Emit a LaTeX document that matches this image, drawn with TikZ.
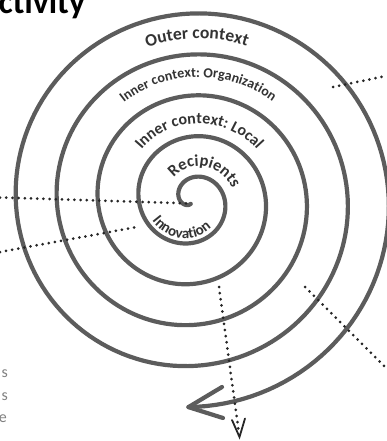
\documentclass[tikz,border=0pt]{standalone}
\usepackage{fontspec}
\setmainfont{Carlito}
\usetikzlibrary{decorations.text, arrows.meta}
\definecolor{spiralcore}{HTML}{5C5C5C}
\definecolor{txt}{HTML}{333333}
\definecolor{dotc}{HTML}{262626}
\definecolor{side}{HTML}{808080}
\newcommand\fOuter{\bfseries\fontsize{17.5}{17.5}\selectfont}
\newcommand\fOrg{\bfseries\fontsize{14}{14}\selectfont}
\newcommand\fLoc{\bfseries\fontsize{16}{16}\selectfont}
\newcommand\fRec{\bfseries\fontsize{16.5}{16.5}\selectfont}
\newcommand\fInn{\bfseries\fontsize{15}{15}\selectfont}
\tikzset{
  spiralline/.style={line width=4.2pt, draw=spiralcore, line cap=round, line join=round},
  dotline/.style={draw=dotc, line width=3pt, line cap=round, dash pattern=on 0pt off 6.2pt},
  tipline/.style={draw=dotc, line width=1.8pt, line cap=round, line join=miter},
  curvetext/.style={decorate, decoration={text along path, text align=center, text color=txt}},
  sidetext/.style={anchor=base east, inner sep=0pt, text=side, font=\fontsize{16}{16}\selectfont},
}
\begin{document}
\begin{tikzpicture}[x=1pt,y=-1pt]
\useasboundingbox (0,0) rectangle (386,441);

% spiral
\draw[spiralline] plot[domain=-252:1531, samples=700]
  ({192+(32.75+0.113889*\x)*cos(\x)}, {200+(32.75+0.113889*\x)*sin(\x)});
\coordinate (tip) at (188.4,407.1);
\coordinate (barbU) at (222,387);
\coordinate (barbL) at (223,418);
\draw[spiralline] (barbU) -- (tip) -- (barbL);

% curved labels
\path[curvetext, decoration={text={|\fOuter|Outer context}}]
  plot[domain=-160:-20, samples=60] ({192+(171.5+0.113889*\x)*cos(\x)}, {200+(171.5+0.113889*\x)*sin(\x)});
\path[curvetext, decoration={text={|\fOrg|Inner context: Organization}}]
  plot[domain=-168:-12, samples=60] ({192+(133+0.113889*\x)*cos(\x)}, {200+(133+0.113889*\x)*sin(\x)});
\path[curvetext, decoration={text={|\fLoc|Inner context: Local}}]
  plot[domain=-175:-5, samples=60] ({192+(86.5+0.113889*\x)*cos(\x)}, {200+(86.5+0.113889*\x)*sin(\x)});
\path[curvetext, decoration={text={|\fRec|Recipients}}]
  plot[domain=-170:10, samples=60] ({192+(43.5+0.113889*\x)*cos(\x)}, {200+(43.5+0.113889*\x)*sin(\x)});
\path[curvetext, decoration={text={|\fInn|Innovation}}]
  plot[domain=0:160, samples=60] ({192+(27.5+0.113889*(178-\x))*cos(178-\x)}, {200+(27.5+0.113889*(178-\x))*sin(178-\x)});

% dotted lines
\coordinate (d1s) at (0,197.5);  \coordinate (d1e) at (191,203.5);
\coordinate (d2s) at (0,252);    \coordinate (d2e) at (137,227);
\coordinate (d3s) at (333,87);   \coordinate (d3e) at (386,76);
\coordinate (d4s) at (305,287);  \coordinate (d4e) at (386,368);
\coordinate (d5s) at (219,287);  \coordinate (d5e) at (238.5,430);
\draw[dotline] (d1s) -- (d1e);
\draw[dotline] (d2s) -- (d2e);
\draw[dotline] (d3s) -- (d3e);
\draw[dotline] (d4s) -- (d4e);
\draw[dotline] (d5s) -- (d5e);
\coordinate (vtip) at (239.5,437);
\coordinate (vL) at (232,420);
\coordinate (vR) at (245,418.5);
\draw[tipline] (vL) -- (vtip) -- (vR);

% texts
\node[anchor=base west, inner sep=0pt, font=\bfseries\fontsize{34}{34}\selectfont] (title) at (-1.5,14) {ctivity};
\node[sidetext] (f1) at (8,377) {s};
\node[sidetext] (f2) at (8,400) {s};
\node[sidetext] (f3) at (7,422) {e};
\end{tikzpicture}
\end{document}
